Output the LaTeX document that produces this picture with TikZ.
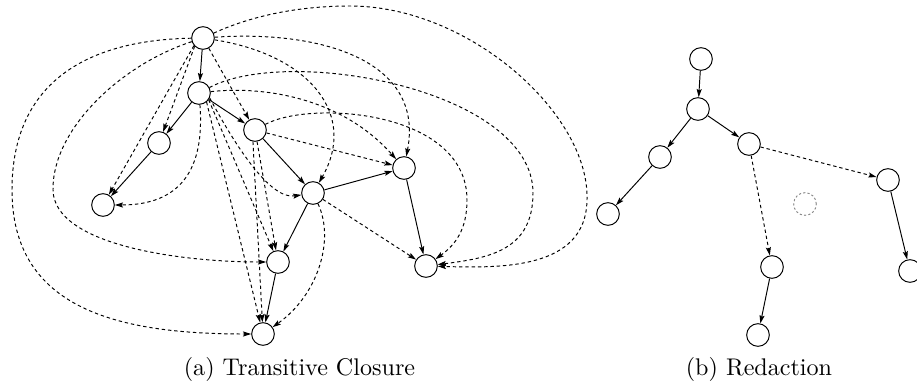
\documentclass[tikz,border=0pt]{standalone}
\usetikzlibrary{arrows.meta}
\begin{document}
\begin{tikzpicture}[x=0.415pt,y=-0.415pt,
  vtx/.style={circle,draw,minimum size=9.4pt,inner sep=0pt},
  ghost/.style={circle,draw=black!45,dash pattern=on 0.9pt off 0.9pt,minimum size=9.4pt,inner sep=0pt},
  sol/.style={-{Stealth[length=3.4pt,width=2.1pt,inset=0.6pt]}},
  dsh/.style={sol,dash pattern=on 1.4pt off 1.2pt},
  captext/.style={font=\fontsize{10}{12}\selectfont,anchor=base}]
\useasboundingbox (0,0) rectangle (917,386);
% ---------- (a) transitive closure ----------
\node[vtx] (A) at (203,38) {};
\node[vtx] (B) at (199,93) {};
\node[vtx] (C) at (159,143) {};
\node[vtx] (D) at (103,205) {};
\node[vtx] (E) at (255,130) {};
\node[vtx] (F) at (313,193) {};
\node[vtx] (G) at (404,168) {};
\node[vtx] (H) at (278,262) {};
\node[vtx] (I) at (263,334) {};
\node[vtx] (J) at (426,266) {};
% solid edges
\draw[sol] (A) -- (B);
\draw[sol] (B) -- (C);
\draw[sol] (B) -- (E);
\draw[sol] (C) -- (D);
\draw[sol] (E) -- (F);
\draw[sol] (F) -- (G);
\draw[sol] (F) -- (H);
\draw[sol] (H) -- (I);
\draw[sol] (G) -- (J);
% dashed straight edges
\draw[dsh] (A.-135) -- (C);
\draw[dsh] (A.-140) -- (D);
\draw[dsh] (A) -- (E);
\draw[dsh] (E) -- (G);
\draw[dsh] (F) -- (J);
\draw[dsh] (B.-35) -- (H);
\draw[dsh] (B.-50) -- (I);
\draw[dsh] (E.-80) -- (H);
\draw[dsh] (E.-100) -- (I);
% dashed curved edges
\draw[dsh] (A) .. controls (310,55) and (358,115) .. (F);
\draw[dsh] (A) .. controls (320,30) and (425,60) .. (G);
\draw[dsh] (A) .. controls (260,12) and (310,6) .. (350,6)
  .. controls (470,6) and (590,115) .. (587,200)
  .. controls (586,270) and (500,268) .. (J);
\draw[dsh] (A) .. controls (90,40) and (12,80) .. (12,190)
  .. controls (12,310) and (120,334) .. (I);
\draw[dsh] (A) .. controls (120,65) and (52,130) .. (53,190)
  .. controls (54,245) and (180,262) .. (H);
\draw[dsh] (B) .. controls (205,170) and (180,205) .. (D);
\draw[dsh] (B.-25) .. controls (235,145) and (270,200) .. (F);
\draw[dsh] (B) .. controls (260,86) and (340,96) .. (G);
\draw[dsh] (B) .. controls (290,45) and (533,90) .. (533,193)
  .. controls (533,250) and (490,258) .. (J);
\draw[dsh] (E) .. controls (310,100) and (467,110) .. (467,200)
  .. controls (467,230) and (455,245) .. (J);
\draw[dsh] (F) .. controls (335,240) and (318,295) .. (I);
\node[captext] (capa) at (299.5,375) {(a) Transitive Closure};
% ---------- (b) redaction ----------
\node[vtx] (a) at (701,59) {};
\node[vtx] (b) at (698,109) {};
\node[vtx] (c) at (660,157) {};
\node[vtx] (d) at (608,214) {};
\node[vtx] (e) at (749,144) {};
\node[ghost] (f) at (805,204) {};
\node[vtx] (g) at (888,180) {};
\node[vtx] (h) at (772,267) {};
\node[vtx] (i) at (758,335) {};
\node[vtx] (j) at (910,271) {};
\draw[sol] (a) -- (b);
\draw[sol] (b) -- (c);
\draw[sol] (b) -- (e);
\draw[sol] (c) -- (d);
\draw[sol] (h) -- (i);
\draw[sol] (g) -- (j);
\draw[dsh] (e) -- (h);
\draw[dsh] (e) -- (g);
\node[captext] (capb) at (759,375) {(b) Redaction};
\end{tikzpicture}
\end{document}
